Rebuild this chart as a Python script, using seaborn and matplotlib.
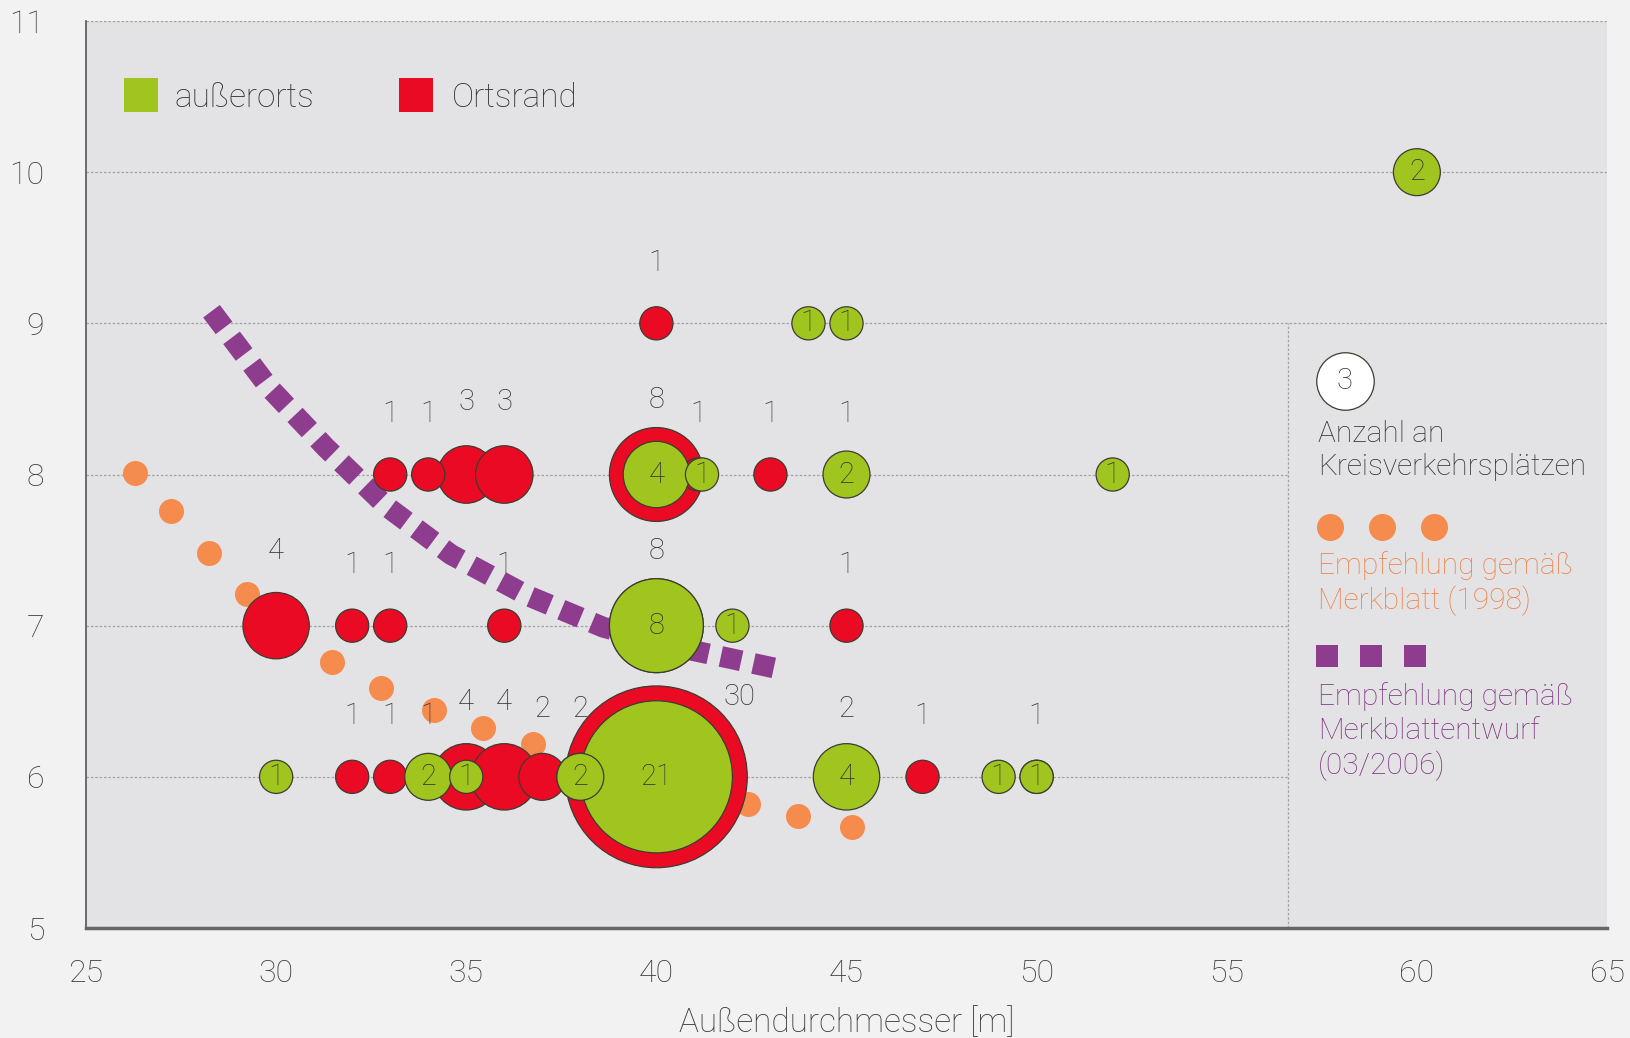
import matplotlib
matplotlib.use("Agg")
import matplotlib.pyplot as plt
import seaborn as sns
import pandas as pd
import numpy as np

# Ortsrand (red): outer diameter, lane width, number of roundabouts
red_x = [40, 33, 34, 35, 36, 40, 41.1, 43, 45, 30, 32, 33, 36, 40, 45,
         32, 33, 34, 35, 36, 37, 38, 40, 45, 47, 50]
red_y = [9, 8, 8, 8, 8, 8, 8, 8, 8, 7, 7, 7, 7, 7, 7,
         6, 6, 6, 6, 6, 6, 6, 6, 6, 6, 6]
red_n = [1, 1, 1, 3, 3, 8, 1, 1, 1, 4, 1, 1, 1, 8, 1,
         1, 1, 1, 4, 4, 2, 2, 30, 2, 1, 1]

# außerorts (green)
green_x = [60, 44, 45, 40, 41.2, 45, 52, 40, 42, 30, 34, 35, 38, 40, 45, 49, 50]
green_y = [10, 9, 9, 8, 8, 8, 8, 7, 7, 6, 6, 6, 6, 6, 6, 6, 6]
green_n = [2, 1, 1, 4, 1, 2, 1, 8, 1, 1, 2, 1, 2, 21, 4, 1, 1]

# Empfehlung gemäß Merkblatt (1998)
orange_x = [26.28, 27.24, 28.23, 29.24, 30.36, 31.48, 32.76, 34.16, 35.44, 36.76,
            38.2, 39.6, 41.0, 42.41, 43.73, 45.15]
orange_y = [8.01, 7.76, 7.48, 7.21, 6.98, 6.76, 6.59, 6.44, 6.32, 6.22,
            6.12, 6.02, 5.92, 5.82, 5.74, 5.67]

# Empfehlung gemäß Merkblattentwurf (03/2006)
purple_x = [28.3, 29.8, 31.3, 32.9, 34.6, 36.6, 38.6, 40.5, 42.0, 43.1]
purple_y = [9.08, 8.58, 8.18, 7.79, 7.47, 7.20, 6.99, 6.86, 6.78, 6.72]

GREEN = "#a0c51e"
RED = "#eb0a23"
ORANGE = "#f68b4e"
PURPLE = "#8d3c8e"
EDGE = "#3c3c32"
TXT = "#333333"
AXTXT = "#3c3c3c"
GRID = "#a3a3a3"
S_PER_COUNT = 571          # marker area (pt^2) for one roundabout
R1_PX = 16.6               # bubble radius in px for one roundabout

sns.set_theme(style="white")
plt.rcParams["font.family"] = ["Roboto", "DejaVu Sans"]
plt.rcParams["font.weight"] = "light"

fig = plt.figure(figsize=(16.3, 10.38), dpi=100, facecolor="#f2f2f2")
ax = fig.add_axes([86 / 1630, 110 / 1038, 1521 / 1630, 907 / 1038])
ax.set_facecolor("#e3e3e5")
ax.set_xlim(25, 65)
ax.set_ylim(5, 11)

# grid, legend panel frame
dots = (0, (2, 1.5))
ax.hlines([6, 7, 8], 25, 56.6, colors=GRID, linestyles=dots, lw=0.9, zorder=1)
ax.hlines([9, 10, 11], 25, 65, colors=GRID, linestyles=dots, lw=0.9, zorder=1)
ax.vlines(56.6, 5, 9, colors=GRID, linestyles=dots, lw=0.9, zorder=1)

# recommendation curves
sns.scatterplot(x=orange_x, y=orange_y, color=ORANGE, s=324, linewidth=0,
                legend=False, ax=ax, zorder=2)
sns.lineplot(x=purple_x, y=purple_y, color=PURPLE, lw=15, sort=False,
             linestyle=(0, (1, 0.6)), solid_capstyle="butt", ax=ax, zorder=2)

# bubbles
red_df = pd.DataFrame({"x": red_x, "y": red_y, "n": red_n})
red_df = red_df.sort_values("n", ascending=False, kind="stable")
green_df = pd.DataFrame({"x": green_x, "y": green_y, "n": green_n})
green_df = green_df.sort_values("n", ascending=False, kind="stable")
for df, col, z in [(red_df, RED, 4), (green_df, GREEN, 5)]:
    sns.scatterplot(data=df, x="x", y="y", size="n",
                    sizes=(0, 30 * S_PER_COUNT), size_norm=(0, 30),
                    color=col, edgecolor=EDGE, linewidth=0.9,
                    legend=False, ax=ax, zorder=z)

for x, y, n in zip(green_x, green_y, green_n):
    ax.text(x, y, str(n), ha="center", va="center", fontsize=21,
            color=TXT, zorder=6)

for x, y, n in zip(red_x, red_y, red_n):
    if n >= 20:
        dx, dy = 83, 80
    else:
        dx, dy = 0, min(R1_PX * np.sqrt(n) + 44, 75)
    ax.annotate(str(n), (x, y), xytext=(dx * 0.72, dy * 0.72),
                textcoords="offset points", ha="center", va="center",
                fontsize=21, color=TXT, zorder=6)

# top legend
ax.scatter([26.45], [10.51], marker="s", s=605, color=GREEN, linewidths=0, zorder=5)
ax.text(27.32, 10.49, "außerorts", fontsize=24, color=TXT, va="center")
ax.scatter([33.69], [10.51], marker="s", s=605, color=RED, linewidths=0, zorder=5)
ax.text(34.62, 10.49, "Ortsrand", fontsize=24, color=TXT, va="center")

# right legend panel
ax.scatter([58.1], [8.62], s=3 * S_PER_COUNT, color="white", edgecolor=EDGE,
           linewidths=0.9, zorder=5)
ax.text(58.1, 8.62, "3", ha="center", va="center", fontsize=21, color=TXT, zorder=6)
ax.text(57.4, 8.158, "Anzahl an\nKreisverkehrsplätzen", fontsize=21.5,
        color=TXT, va="center", linespacing=1.25)
ax.scatter([57.72, 59.09, 60.46], [7.65] * 3, s=380, color=ORANGE, linewidths=0, zorder=5)
ax.text(57.4, 7.278, "Empfehlung gemäß\nMerkblatt (1998)", fontsize=21.5,
        color="#f07f45", va="center", linespacing=1.25)
ax.scatter([57.64, 58.79, 59.94], [6.80] * 3, marker="s", s=272, color=PURPLE,
           linewidths=0, zorder=5)
ax.text(57.4, 6.30, "Empfehlung gemäß\nMerkblattentwurf\n(03/2006)", fontsize=21.5,
        color="#7e3580", va="center", linespacing=1.25)

# axes
ax.set_xticks(range(25, 66, 5))
ax.set_yticks(range(5, 12))
ax.tick_params(axis="x", direction="inout", length=28, width=0.8,
               color="#8a8a8a", pad=8, labelsize=23, labelcolor=AXTXT)
ax.tick_params(axis="y", length=0, pad=30, labelsize=23, labelcolor=AXTXT)
ax.set_xlabel("Außendurchmesser [m]", fontsize=24, fontweight="light",
              color=AXTXT, labelpad=14)
ax.set_ylabel("")
for side in ["top", "right"]:
    ax.spines[side].set_visible(False)
ax.spines["left"].set_color("#555555")
ax.spines["left"].set_linewidth(1.2)
ax.spines["bottom"].set_color("#666666")
ax.spines["bottom"].set_linewidth(2.5)

fig.savefig("out.png", dpi=100, facecolor=fig.get_facecolor())
